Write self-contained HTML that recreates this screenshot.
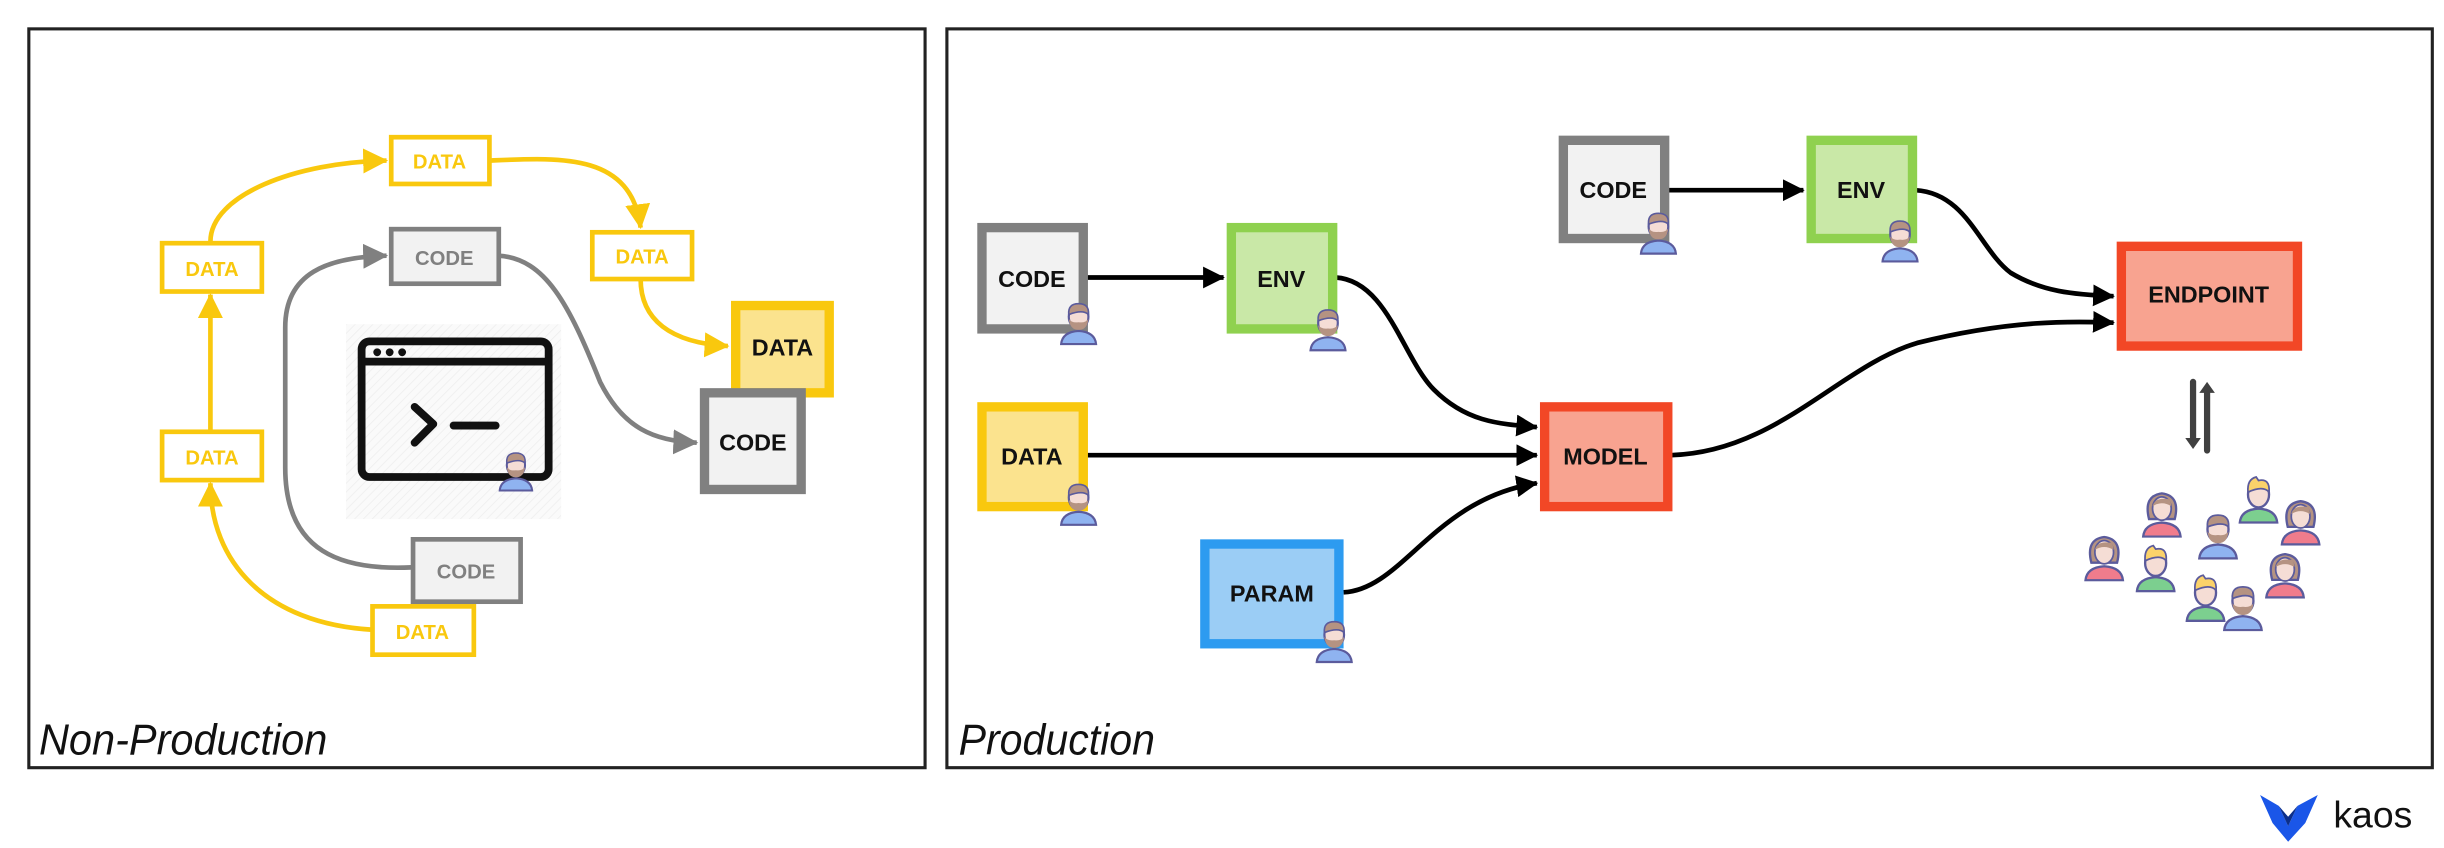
<!DOCTYPE html>
<html><head><meta charset="utf-8"><style>
html,body{margin:0;padding:0;background:#fff;}
svg{display:block;}
text{font-family:"Liberation Sans",sans-serif;}
.b{font-weight:bold;}
</style></head><body>
<svg width="2444" height="848" viewBox="0 0 1568 544" xmlns="http://www.w3.org/2000/svg">
<defs>
<marker id="ay" markerUnits="userSpaceOnUse" markerWidth="16" markerHeight="16" viewBox="0 0 16 16" refX="15" refY="8" orient="auto"><path d="M0,0 L16,8 L0,16 Z" fill="#f9c80e"/></marker>
<marker id="ag" markerUnits="userSpaceOnUse" markerWidth="16" markerHeight="16" viewBox="0 0 16 16" refX="15" refY="8" orient="auto"><path d="M0,0 L16,8 L0,16 Z" fill="#808080"/></marker>
<marker id="ab" markerUnits="userSpaceOnUse" markerWidth="14" markerHeight="14" viewBox="0 0 16 16" refX="15" refY="8" orient="auto"><path d="M0,0 L16,8 L0,16 Z" fill="#000"/></marker>
<pattern id="hatch" width="4" height="4" patternUnits="userSpaceOnUse" patternTransform="rotate(45)"><rect width="4" height="4" fill="#fafafa"/><line x1="0" y1="0" x2="0" y2="4" stroke="#eee" stroke-width="1"/></pattern>
<symbol id="man" viewBox="0 0 40 44">
<path d="M4 43 Q5 32 20 31 Q35 32 36 43 Z" fill="#8fb3f0" stroke="#5b5b9c" stroke-width="2"/>
<ellipse cx="20" cy="18" rx="9" ry="11" fill="#f5ddd5" stroke="#5b5b9c" stroke-width="2"/>
<path d="M11 16 Q10 6 20 6 Q30 6 29 16 Q24 11 11 16 Z" fill="#b59382" stroke="#5b5b9c" stroke-width="1.5"/>
<path d="M11 20 Q12 30 20 30 Q28 30 29 20 Q26 24 20 23 Q14 24 11 20 Z" fill="#b59382"/>
</symbol>
<symbol id="woman" viewBox="0 0 40 44">
<path d="M9 28 Q4 8 20 6 Q36 8 31 28 Z" fill="#b59382" stroke="#5b5b9c" stroke-width="2"/>
<path d="M4 43 Q5 32 20 31 Q35 32 36 43 Z" fill="#f07c8c" stroke="#5b5b9c" stroke-width="2"/>
<ellipse cx="20" cy="19" rx="8" ry="10" fill="#f5ddd5" stroke="#5b5b9c" stroke-width="1.5"/>
<path d="M12 17 Q14 9 26 11 Q28 13 28 17 Q20 12 12 17Z" fill="#b59382"/>
</symbol>
<symbol id="blond" viewBox="0 0 40 44">
<path d="M4 43 Q5 32 20 31 Q35 32 36 43 Z" fill="#7ccf8f" stroke="#5b5b9c" stroke-width="2"/>
<ellipse cx="20" cy="19" rx="9" ry="11" fill="#f5ddd5" stroke="#5b5b9c" stroke-width="2"/>
<path d="M11 17 Q10 6 18 4 L20 7 Q30 5 29 17 Q24 11 11 17 Z" fill="#fbd26a" stroke="#5b5b9c" stroke-width="1.5"/>
</symbol>
</defs>

<!-- frames -->
<rect x="18.5" y="18.5" width="575" height="474" fill="#fff" stroke="#222" stroke-width="2"/>
<rect x="607.5" y="18.5" width="953" height="474" fill="#fff" stroke="#222" stroke-width="2"/>
<text x="25" y="484" font-size="28" font-style="italic" fill="#111" textLength="185" lengthAdjust="spacingAndGlyphs">Non-Production</text>
<text x="615" y="484" font-size="28" font-style="italic" fill="#111" textLength="126" lengthAdjust="spacingAndGlyphs">Production</text>

<!-- LEFT connectors -->
<g fill="none" stroke-width="3">
<path d="M135 276 L135 189" stroke="#f9c80e" marker-end="url(#ay)"/>
<path d="M239 404 C170 400 135 360 135 310" stroke="#f9c80e" marker-end="url(#ay)"/>
<path d="M135 155 C135 125 190 104 248 103" stroke="#f9c80e" marker-end="url(#ay)"/>
<path d="M314 103 C360 101 405 98 411 146" stroke="#f9c80e" marker-end="url(#ay)"/>
<path d="M411 179 C411 205 430 220 467 222" stroke="#f9c80e" marker-end="url(#ay)"/>
<path d="M264 364 C220 366 183 355 183 300 L183 210 C183 175 210 165 248 164" stroke="#808080" marker-end="url(#ag)"/>
<path d="M320 164 C350 166 365 195 385 245 C400 275 420 283 447 284" stroke="#808080" marker-end="url(#ag)"/>
</g>

<!-- terminal icon -->
<rect x="222" y="208" width="138" height="125" fill="url(#hatch)"/>
<rect x="232" y="219" width="120" height="87" rx="5" fill="none" stroke="#111" stroke-width="5"/>
<line x1="232" y1="232" x2="352" y2="232" stroke="#111" stroke-width="5"/>
<circle cx="242" cy="226" r="2.5" fill="#111"/><circle cx="250" cy="226" r="2.5" fill="#111"/><circle cx="258" cy="226" r="2.5" fill="#111"/>
<polyline points="266,261 278,272 266,284" fill="none" stroke="#111" stroke-width="5" stroke-linecap="round" stroke-linejoin="round"/>
<line x1="291" y1="273" x2="318" y2="273" stroke="#111" stroke-width="5" stroke-linecap="round"/>
<use href="#man" x="318" y="286" width="26" height="30"/>

<!-- LEFT nodes -->
<g font-size="13" text-anchor="middle" class="b">
<rect x="251" y="88" width="63" height="30" fill="#fff" stroke="#f9c80e" stroke-width="3"/><text class="b" x="282" y="108" fill="#f9c80e">DATA</text>
<rect x="104" y="156" width="64" height="31" fill="#fff" stroke="#f9c80e" stroke-width="3"/><text class="b" x="136" y="177" fill="#f9c80e">DATA</text>
<rect x="104" y="277" width="64" height="31" fill="#fff" stroke="#f9c80e" stroke-width="3"/><text class="b" x="136" y="298" fill="#f9c80e">DATA</text>
<rect x="380" y="149" width="64" height="30" fill="#fff" stroke="#f9c80e" stroke-width="3"/><text class="b" x="412" y="169" fill="#f9c80e">DATA</text>
<rect x="239" y="389" width="65" height="31" fill="#fff" stroke="#f9c80e" stroke-width="3"/><text class="b" x="271" y="410" fill="#f9c80e">DATA</text>
<rect x="251" y="147" width="69" height="35" fill="#f2f2f2" stroke="#808080" stroke-width="3"/><text class="b" x="285" y="170" fill="#808080">CODE</text>
<rect x="265" y="346" width="69" height="40" fill="#f2f2f2" stroke="#808080" stroke-width="3"/><text class="b" x="299" y="371" fill="#808080">CODE</text>
<rect x="472" y="196" width="60" height="56" fill="#fbe38e" stroke="#f9c80e" stroke-width="6"/><text class="b" x="502" y="228" fill="#111" font-size="15">DATA</text>
<rect x="452" y="252" width="62" height="62" fill="#f2f2f2" stroke="#808080" stroke-width="6"/><text class="b" x="483" y="289" fill="#111" font-size="15">CODE</text>
</g>

<!-- RIGHT connectors -->
<g fill="none" stroke="#000" stroke-width="3">
<path d="M697 178 L785 178" marker-end="url(#ab)"/>
<path d="M1070 122 L1157 122" marker-end="url(#ab)"/>
<path d="M697 292 L986 292" marker-end="url(#ab)"/>
<path d="M857 178 C890 180 900 230 920 250 C940 270 960 272 986 274" marker-end="url(#ab)"/>
<path d="M862 380 C900 378 920 320 986 310" marker-end="url(#ab)"/>
<path d="M1072 292 C1140 290 1180 235 1230 220 C1290 205 1330 206 1356 207" marker-end="url(#ab)"/>
<path d="M1229 122 C1262 124 1270 160 1290 175 C1310 187 1330 189 1356 190" marker-end="url(#ab)"/>
</g>

<!-- RIGHT nodes -->
<g font-size="15" text-anchor="middle" fill="#111">
<rect x="630" y="146" width="65" height="65" fill="#f2f2f2" stroke="#808080" stroke-width="6"/><text class="b" x="662" y="184">CODE</text>
<rect x="790" y="146" width="65" height="65" fill="#c9e8a7" stroke="#8fd14f" stroke-width="6"/><text class="b" x="822" y="184">ENV</text>
<rect x="630" y="261" width="65" height="64" fill="#fbe38e" stroke="#f9c80e" stroke-width="6"/><text class="b" x="662" y="298">DATA</text>
<rect x="773" y="349" width="86" height="64" fill="#9bcdf5" stroke="#2d9bf0" stroke-width="6"/><text class="b" x="816" y="386">PARAM</text>
<rect x="991" y="261" width="79" height="64" fill="#f8a390" stroke="#f24726" stroke-width="6"/><text class="b" x="1030" y="298">MODEL</text>
<rect x="1003" y="90" width="65" height="63" fill="#f2f2f2" stroke="#808080" stroke-width="6"/><text class="b" x="1035" y="127">CODE</text>
<rect x="1162" y="90" width="65" height="63" fill="#c9e8a7" stroke="#8fd14f" stroke-width="6"/><text class="b" x="1194" y="127">ENV</text>
<rect x="1361" y="158" width="113" height="64" fill="#f8a390" stroke="#f24726" stroke-width="6"/><text class="b" x="1417" y="194">ENDPOINT</text>
</g>
<g>
<use href="#man" x="678" y="190" width="28" height="32"/>
<use href="#man" x="838" y="194" width="28" height="32"/>
<use href="#man" x="678" y="306" width="28" height="32"/>
<use href="#man" x="842" y="394" width="28" height="32"/>
<use href="#man" x="1050" y="132" width="28" height="32"/>
<use href="#man" x="1205" y="137" width="28" height="32"/>
</g>

<!-- up/down arrows -->
<g stroke="#404040" stroke-width="4" stroke-linecap="round">
<line x1="1407" y1="245" x2="1407" y2="283"/><line x1="1416" y1="251" x2="1416" y2="289"/>
</g>
<path d="M1402 281 L1412 281 L1407 288 Z" fill="#404040"/>
<path d="M1411 252 L1421 252 L1416 245 Z" fill="#404040"/>

<!-- people -->
<g>
<use href="#woman" x="1335" y="340" width="30" height="33"/>
<use href="#woman" x="1372" y="312" width="30" height="33"/>
<use href="#man" x="1408" y="326" width="30" height="33"/>
<use href="#blond" x="1434" y="303" width="30" height="33"/>
<use href="#woman" x="1461" y="317" width="30" height="33"/>
<use href="#blond" x="1368" y="347" width="30" height="33"/>
<use href="#woman" x="1451" y="351" width="30" height="33"/>
<use href="#blond" x="1400" y="366" width="30" height="33"/>
<use href="#man" x="1424" y="372" width="30" height="33"/>
</g>

<!-- kaos logo -->
<path d="M1450 510 L1462 517 L1468 530 L1474 517 L1487 510 L1479 528 L1468 540 L1458 528 Z" fill="#1a56e8"/>
<path d="M1462 517 L1468 530 L1474 517 L1468 524 Z" fill="#0b2e8a"/>
<text x="1497" y="531" font-size="24" fill="#111">kaos</text>
</svg>
</body></html>
